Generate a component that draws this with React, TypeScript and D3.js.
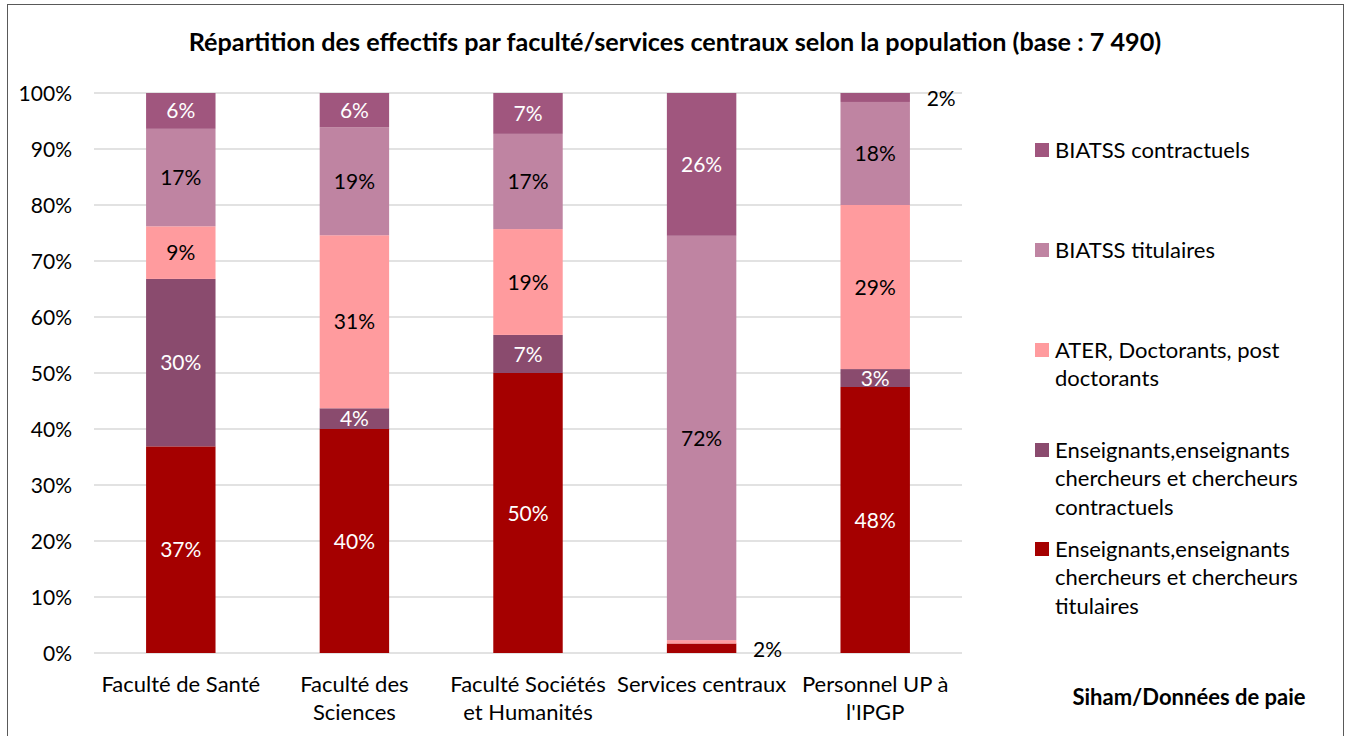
import React from "react";
import * as d3 from "d3";

const categories = [
  ["Faculté de Santé"],
  ["Faculté des", "Sciences"],
  ["Faculté Sociétés", "et Humanités"],
  ["Services centraux"],
  ["Personnel UP à", "l'IPGP"],
];
const ensTitulaires = [36.9, 40.0, 50.0, 1.7, 47.5];
const ensContractuels = [29.9, 3.7, 6.8, 0.0, 3.2];
const ater = [9.4, 30.9, 18.9, 0.6, 29.3];
const biatssTitulaires = [17.4, 19.3, 17.0, 72.2, 18.4];
const biatssContractuels = [6.4, 6.1, 7.3, 25.5, 1.6];
const yTicks = [0, 10, 20, 30, 40, 50, 60, 70, 80, 90, 100];

const seriesNames = [
  ["Enseignants,enseignants", "chercheurs et chercheurs", "titulaires"],
  ["Enseignants,enseignants", "chercheurs et chercheurs", "contractuels"],
  ["ATER, Doctorants, post", "doctorants"],
  ["BIATSS titulaires"],
  ["BIATSS contractuels"],
];
const colors = ["#A50000", "#8A4B6E", "#FF9B9E", "#BF84A2", "#A0567E"];
const labelColors = ["#fff", "#fff", "#000", "#000", "#fff"];
const seriesValues = [ensTitulaires, ensContractuels, ater, biatssTitulaires, biatssContractuels];

const FONT = "Lato, 'Open Sans', sans-serif";

export default function App() {
  const W = 1351, H = 736;
  const x = d3.scaleBand<number>().domain(d3.range(categories.length)).range([94, 962]).paddingInner(0.6).paddingOuter(0.3);
  const y = d3.scaleLinear().domain([0, 100]).range([653, 93]);
  const keys = seriesValues.map((_, i) => "s" + i);
  const rows = categories.map((_, ci) => {
    const r: any = {};
    seriesValues.forEach((s, si) => (r["s" + si] = s[ci]));
    return r;
  });
  const stacked = d3.stack().keys(keys)(rows);
  const bw = x.bandwidth();

  const legendY = [549, 450, 350, 250, 150];

  return (
    <svg width={W} height={H} style={{ position: "absolute", left: 0, top: 0, background: "#fff" }} fontFamily={FONT}>
      <rect x={7.5} y={4.5} width={1336} height={740} fill="#fff" stroke="#595959" strokeWidth={1} />
      <text x={675} y={51} textAnchor="middle" fontSize={25.2} fontWeight="bold" fill="#000">
        Répartition des effectifs par faculté/services centraux selon la population (base : 7 490)
      </text>
      {yTicks.map((t) => (
        <g key={t}>
          <line x1={94} x2={962} y1={y(t)} y2={y(t)} stroke="#D9D9D9" strokeWidth={1.5} />
          <text x={72} y={y(t)} dy="0.36em" textAnchor="end" fontSize={21} fill="#000">
            {t}%
          </text>
        </g>
      ))}
      {stacked.map((layer, si) => (
        <g key={si}>
          {layer.map((d, ci) => {
            const x0 = x(ci)!;
            const v = d[1] - d[0];
            if (v <= 0) return null;
            return (
              <rect key={ci} x={x0} width={bw} y={y(d[1])} height={y(d[0]) - y(d[1])} fill={colors[si]} />
            );
          })}
        </g>
      ))}
      {stacked.map((layer, si) => (
        <g key={"l" + si}>
          {layer.map((d, ci) => {
            const v = d[1] - d[0];
            if (v < 1) return null;
            const cx = x(ci)! + bw / 2;
            const cy = (y(d[0]) + y(d[1])) / 2;
            const outside = v < 2.5;
            return (
              <text
                key={ci}
                x={outside ? cx + 66 : cx}
                y={cy + (outside ? 1 : 0)}
                dy="0.36em"
                textAnchor="middle"
                fontSize={21}
                fill={outside ? "#000" : labelColors[si]}
              >
                {Math.round(v)}%
              </text>
            );
          })}
        </g>
      ))}
      {categories.map((lines, ci) => (
        <text key={ci} textAnchor="middle" fontSize={22} fill="#000">
          {lines.map((l, li) => (
            <tspan key={li} x={x(ci)! + bw / 2} y={692 + li * 28}>
              {l}
            </tspan>
          ))}
        </text>
      ))}
      {seriesNames.map((lines, si) => (
        <g key={si}>
          <rect x={1035} y={legendY[si] - 7} width={14} height={14} fill={colors[si]} />
          <text fontSize={22} fill="#000">
            {lines.map((l, li) => (
              <tspan key={li} x={1055} y={legendY[si] + 7.5 + li * 28.5}>
                {l}
              </tspan>
            ))}
          </text>
        </g>
      ))}
      <text x={1189} y={705} textAnchor="middle" fontSize={22} fontWeight="bold" fill="#000">
        Siham/Données de paie
      </text>
    </svg>
  );
}
